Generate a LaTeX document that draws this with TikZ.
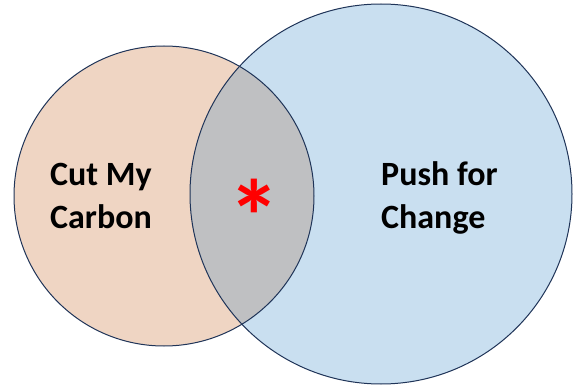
\documentclass[tikz,border=0pt]{standalone}
\usepackage{fontspec}
\setmainfont{Carlito}
\definecolor{peach}{HTML}{EFD5C3}
\definecolor{lblue}{HTML}{C9DFF0}
\definecolor{ovgray}{HTML}{BFC0C2}
\definecolor{edge}{HTML}{1F3458}
\begin{document}
\begin{tikzpicture}[x=1pt,y=-1pt,
  lbl/.style={inner sep=0pt, anchor=base west, align=left, font=\bfseries\fontsize{34}{43}\selectfont},
  outline/.style={draw=edge, line width=1pt}]
\useasboundingbox (0,0) rectangle (576,385);
\fill[peach] (164,196) circle[radius=150];
\fill[lblue] (381,194) ellipse[x radius=191, y radius=190];
\begin{scope}
  \clip (164,196) circle[radius=150];
  \fill[ovgray] (381,194) ellipse[x radius=191, y radius=190];
\end{scope}
\draw[outline] (164,196) circle[radius=150];
\draw[outline] (381,194) ellipse[x radius=191, y radius=190];
\node[lbl] (cut) at (50,228) {Cut My\\Carbon};
\node[lbl] (push) at (381,228) {Push for\\Change};
\node[inner sep=0pt, text=red, font=\bfseries\fontsize{104}{104}\selectfont] (star) at (254,216) {*};
\end{tikzpicture}
\end{document}
